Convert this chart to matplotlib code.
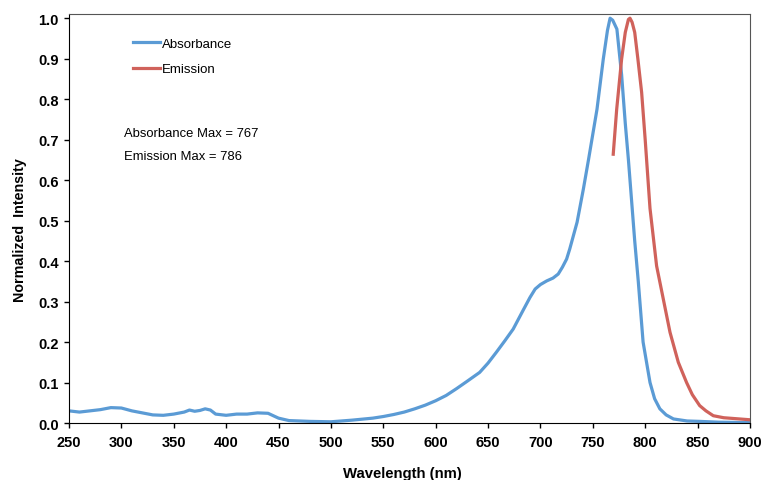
import matplotlib
matplotlib.use("Agg")
import matplotlib.pyplot as plt

# absorbance spectrum (normalized)
abs_wl = [250, 260, 270, 280, 290, 300, 310, 320, 330, 340, 350, 360, 365, 370, 375,
          380, 385, 390, 400, 410, 420, 430, 440, 450, 460, 470, 480, 500, 520, 540,
          550, 560, 570, 580, 590, 600, 610, 620, 630, 642, 650, 658, 666, 674, 684,
          690, 695, 700, 706, 712, 717, 721, 725, 728, 735, 741, 746, 754, 760, 764,
          766.5, 769, 773, 777.5, 781, 784, 787, 790, 793.4, 798, 804.6, 809, 814, 820,
          827, 840, 852, 870, 900]
abs_val = [0.030, 0.027, 0.030, 0.033, 0.038, 0.037, 0.030, 0.025, 0.020, 0.019, 0.022,
           0.027, 0.032, 0.029, 0.031, 0.035, 0.032, 0.022, 0.019, 0.022, 0.022, 0.025,
           0.024, 0.012, 0.006, 0.005, 0.004, 0.003, 0.007, 0.012, 0.016, 0.021, 0.027,
           0.035, 0.044, 0.055, 0.068, 0.085, 0.103, 0.125, 0.148, 0.175, 0.203, 0.232,
           0.281, 0.310, 0.331, 0.342, 0.351, 0.358, 0.368, 0.385, 0.405, 0.430, 0.496,
           0.578, 0.652, 0.775, 0.899, 0.970, 1.000, 0.995, 0.973, 0.860, 0.740, 0.650,
           0.550, 0.450, 0.350, 0.200, 0.100, 0.060, 0.035, 0.020, 0.010, 0.005, 0.004,
           0.002, 0.001]

# emission spectrum (normalized)
em_wl = [769.5, 772.8, 777.5, 781, 784, 785.5, 787.5, 790, 793, 796.6, 800, 804.6,
         810.9, 817.3, 823.7, 831.6, 839.5, 845, 852, 858, 865, 875, 890, 900]
em_val = [0.664, 0.775, 0.899, 0.965, 0.997, 1.000, 0.990, 0.965, 0.900, 0.817, 0.700,
          0.530, 0.388, 0.306, 0.224, 0.150, 0.100, 0.070, 0.043, 0.030, 0.018, 0.013,
          0.010, 0.008]

plt.rcParams['font.family'] = ['Liberation Sans', 'DejaVu Sans']

fig = plt.figure(figsize=(7.63, 4.81), dpi=100)
ax = fig.add_axes([0.0904, 0.1185, 0.8925, 0.850])

ax.plot(abs_wl, abs_val, color='#5b9bd5', lw=2.3, label='Absorbance')
ax.plot(em_wl, em_val, color='#d0625b', lw=2.3, label='Emission')

ax.set_xlim(250, 900)
ax.set_ylim(0, 1.01)
ax.set_xticks(range(250, 901, 50))
ax.set_yticks([i / 10 for i in range(11)])
ax.set_yticklabels(['%.1f' % (i / 10) for i in range(11)])
ax.tick_params(direction='out', length=3.5, width=1, labelsize=10.5)
ax.tick_params(axis='x', pad=5)
ax.tick_params(axis='y', pad=4)
for lab in ax.get_xticklabels() + ax.get_yticklabels():
    lab.set_fontweight('bold')

for side in ['left', 'bottom']:
    ax.spines[side].set_color('black')
for side in ['top', 'right']:
    ax.spines[side].set_color('#555555')

ax.set_xlabel('Wavelength (nm)', fontsize=10.7, fontweight='bold', labelpad=12.5)
ax.xaxis.label.set_x(0.49)
ax.set_ylabel('Normalized  Intensity', fontsize=10.3, fontweight='bold', labelpad=8)
ax.yaxis.label.set_y(0.474)

ax.legend(loc='upper left', bbox_to_anchor=(0.094, 0.942), frameon=False,
          fontsize=9.5, handlelength=2.05, handletextpad=0.15, labelspacing=0.97,
          borderpad=0, borderaxespad=0)

ax.annotate('Absorbance Max = 767', xy=(124 / 763, 1 - 134 / 481), xycoords='figure fraction',
            fontsize=9.4, va='center')
ax.annotate('Emission Max = 786', xy=(124 / 763, 1 - 157 / 481), xycoords='figure fraction',
            fontsize=9.4, va='center')

fig.savefig('out.png', dpi=100)
